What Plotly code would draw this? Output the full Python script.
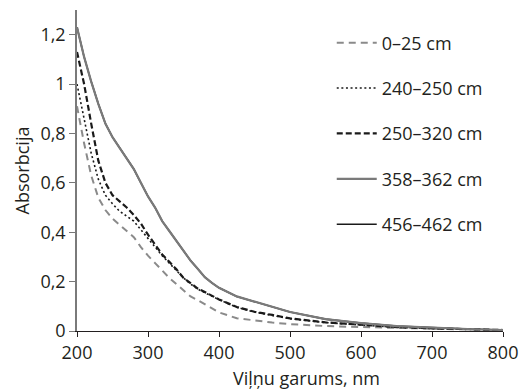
import plotly.graph_objects as go

wavelength = [200, 210, 220, 230, 240, 250, 260, 270, 280, 290, 300, 310, 320, 330, 340,
              350, 360, 370, 380, 390, 400, 425, 450, 475, 500, 550, 600, 650, 700, 750, 800]

s_0_25 = [0.91, 0.76, 0.63, 0.54, 0.49, 0.455, 0.43, 0.405, 0.38, 0.34, 0.305, 0.275, 0.245,
          0.215, 0.19, 0.165, 0.14, 0.125, 0.108, 0.09, 0.075, 0.052, 0.042, 0.034, 0.028,
          0.02, 0.016, 0.012, 0.009, 0.006, 0.003]
s_240_250 = [1.00, 0.86, 0.72, 0.615, 0.55, 0.515, 0.485, 0.465, 0.445, 0.41, 0.375, 0.34, 0.305,
             0.275, 0.245, 0.215, 0.19, 0.17, 0.155, 0.14, 0.127, 0.096, 0.077, 0.063, 0.05,
             0.034, 0.023, 0.015, 0.01, 0.006, 0.004]
s_250_320 = [1.13, 1.00, 0.84, 0.69, 0.60, 0.55, 0.525, 0.50, 0.47, 0.435, 0.39, 0.35, 0.31,
             0.28, 0.25, 0.215, 0.195, 0.172, 0.158, 0.142, 0.128, 0.097, 0.078, 0.065, 0.051,
             0.035, 0.024, 0.016, 0.011, 0.007, 0.004]
s_358_362 = [1.23, 1.11, 1.01, 0.92, 0.84, 0.785, 0.742, 0.70, 0.656, 0.60, 0.545, 0.50, 0.445,
             0.405, 0.365, 0.325, 0.285, 0.252, 0.218, 0.195, 0.175, 0.14, 0.12, 0.098, 0.077,
             0.048, 0.032, 0.02, 0.013, 0.008, 0.004]
s_456_462 = [1.23, 1.11, 1.01, 0.92, 0.84, 0.785, 0.742, 0.70, 0.656, 0.60, 0.545, 0.50, 0.445,
             0.405, 0.365, 0.325, 0.285, 0.252, 0.218, 0.195, 0.175, 0.14, 0.12, 0.098, 0.077,
             0.048, 0.032, 0.02, 0.013, 0.008, 0.004]

names = ["0–25 cm", "240–250 cm", "250–320 cm", "358–362 cm", "456–462 cm"]
y_tickvals = [0, 0.2, 0.4, 0.6, 0.8, 1.0, 1.2]
y_ticktext = ["0", "0,2", "0,4", "0,6", "0,8", "1", "1,2"]
x_tickvals = [200, 300, 400, 500, 600, 700, 800]
x_title = "Viļņu garums, nm"
y_title = "Absorbcija"

FONT = "Open Sans"
TXT = "#231f20"

fig = go.Figure()
# hidden beneath the grey solid line in the original
fig.add_trace(go.Scatter(x=wavelength, y=s_456_462, name=names[4], mode="lines",
                         line=dict(color="#1a1a1a", width=1.6), legendrank=5, legendgroup="e"))
fig.add_trace(go.Scatter(x=wavelength, y=s_0_25, name=names[0], mode="lines",
                         line=dict(color="#8a8a8a", width=2, dash="7px,5px"), legendrank=1, legendgroup="a"))
fig.add_trace(go.Scatter(x=wavelength, y=s_240_250, name=names[1], mode="lines",
                         line=dict(color="#1a1a1a", width=1.6, dash="2px,2.6px"), legendrank=2, legendgroup="b"))
fig.add_trace(go.Scatter(x=wavelength, y=s_250_320, name=names[2], mode="lines",
                         line=dict(color="#1a1a1a", width=2.2, dash="6px,3px"), legendrank=3, legendgroup="c"))
fig.add_trace(go.Scatter(x=wavelength, y=s_358_362, name=names[3], mode="lines",
                         line=dict(color="#7a7a7a", width=2.2), legendrank=4, legendgroup="d"))

fig.update_layout(
    width=528, height=390,
    margin=dict(l=77, r=22, t=10, b=59),
    paper_bgcolor="white", plot_bgcolor="white",
    font=dict(family=FONT, size=18, color=TXT),
    showlegend=True,
    legend=dict(x=0.598, y=0.955, xanchor="left", yanchor="top",
                bgcolor="rgba(0,0,0,0)", tracegroupgap=19,
                font=dict(family=FONT, size=18, color=TXT),
                itemwidth=40),
    xaxis=dict(range=[200, 800], tickvals=x_tickvals, ticks="outside", ticklen=5,
               tickcolor="#231f20", showline=True, linecolor="#231f20", linewidth=1.3,
               showgrid=False, zeroline=False, tickfont=dict(size=18)),
    yaxis=dict(range=[0, 1.3], tickvals=y_tickvals, ticktext=y_ticktext, ticks="outside",
               ticklen=6, tickcolor="#777777", showline=True, linecolor="#7a7a7a",
               linewidth=1.5, showgrid=False, zeroline=False,
               title=dict(text=y_title, standoff=6, font=dict(size=18)),
               tickfont=dict(size=18)),
    annotations=[dict(text=x_title, xref="paper", yref="paper", x=0.538, y=0,
                      xanchor="center", yanchor="top", yshift=-33, showarrow=False,
                      font=dict(family=FONT, size=18, color=TXT))],
)

fig.write_html("out.html")
